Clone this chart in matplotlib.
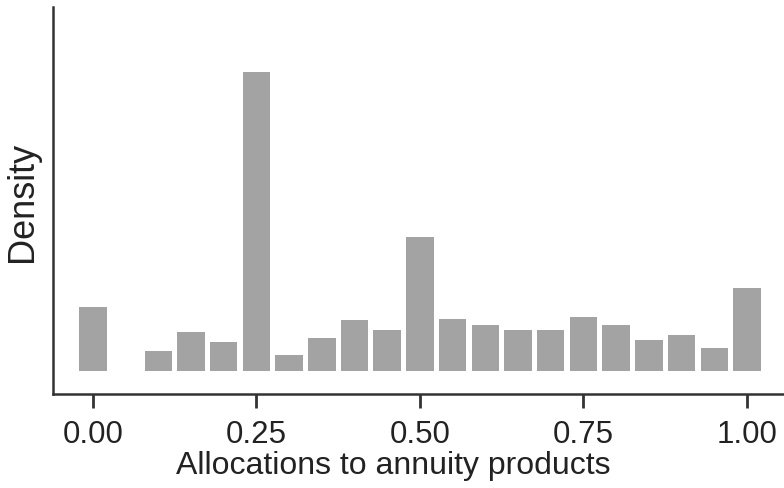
import matplotlib
matplotlib.use("Agg")
import matplotlib.pyplot as plt

# Histogram of allocation shares, bins of 0.05
bin_centres = [0.00, 0.05, 0.10, 0.15, 0.20, 0.25, 0.30, 0.35, 0.40, 0.45, 0.50,
               0.55, 0.60, 0.65, 0.70, 0.75, 0.80, 0.85, 0.90, 0.95, 1.00]
density = [1.09, 0.00, 0.34, 0.65, 0.48, 5.09, 0.26, 0.56, 0.87, 0.70, 2.28,
           0.88, 0.78, 0.70, 0.70, 0.92, 0.78, 0.52, 0.61, 0.38, 1.41]
tick_values = [0.00, 0.25, 0.50, 0.75, 1.00]
tick_labels = ["0.00", "0.25", "0.50", "0.75", "1.00"]

plt.rcParams["font.family"] = ["Liberation Sans", "DejaVu Sans"]

fig = plt.figure(figsize=(7.84, 4.89), dpi=100)
ax = fig.add_axes([0.0676, 0.1922, 0.9324, 0.7914])

ax.bar(bin_centres, density, width=0.042, color="#a3a3a3", linewidth=0)

ax.set_xlim(-0.061, 1.0566)
ax.set_ylim(-0.40, 6.20)

ax.set_xticks(tick_values)
ax.set_xticklabels(tick_labels, fontsize=22.5, color="#222222")
ax.set_yticks([])
ax.tick_params(axis="x", length=0, pad=18)

# tick marks drawn as short lines hanging below the x axis
ax.vlines(tick_values, -0.035, 0, transform=ax.get_xaxis_transform(),
          color="#333333", linewidth=2, clip_on=False)

for side in ("top", "right"):
    ax.spines[side].set_visible(False)
for side in ("left", "bottom"):
    ax.spines[side].set_color("#333333")
    ax.spines[side].set_linewidth(1.8)

ax.set_xlabel("Allocations to annuity products", fontsize=23, color="#222222")
ax.xaxis.set_label_coords(0.466, -0.145)
ax.xaxis.label.set_va("top")
ax.set_ylabel("Density", fontsize=26, color="#222222")
ax.yaxis.set_label_coords(-0.018, 0.5)

fig.savefig("out.png", dpi=100)
